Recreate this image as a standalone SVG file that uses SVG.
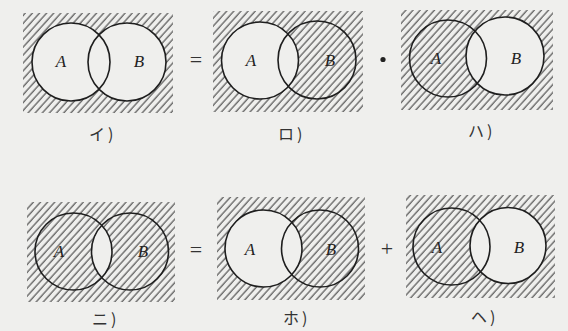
<svg xmlns="http://www.w3.org/2000/svg" width="568" height="331" viewBox="0 0 568 331">
<style>
.bg{fill:#efefed}
.c{fill:none;stroke:#1e1e1e;stroke-width:1.6}
.cv{fill:#efefed;stroke:none}
.h{fill:url(#hatch)}
.v{font-family:"Liberation Serif",serif;font-style:italic;font-size:17px;fill:#222;text-anchor:middle;dominant-baseline:central}
.op{font-family:"Liberation Serif",serif;font-size:22px;fill:#333;text-anchor:middle;dominant-baseline:central}
.lb{font-family:"Noto Sans CJK JP",sans-serif;font-size:16px;fill:#333;letter-spacing:3px}
</style>
<defs>
<pattern id="hatch" patternUnits="userSpaceOnUse" width="5.3" height="10" patternTransform="rotate(42)">
<line x1="1" y1="0" x2="1" y2="10" stroke="#333" stroke-width="1"/>
</pattern>
<clipPath id="clipA4"><circle cx="73.5" cy="251.5" r="38.5"/></clipPath>
</defs>
<rect class="bg" x="0" y="0" width="568" height="331"/>

<g id="panel-i">
<rect class="h" x="23" y="13" width="150" height="100"/>
<circle class="cv" cx="71" cy="62" r="39"/>
<circle class="cv" cx="127" cy="62" r="39"/>
<circle class="c" cx="71" cy="62" r="39"/>
<circle class="c" cx="127" cy="62" r="39"/>
<text class="v" x="61" y="61">A</text>
<text class="v" x="139" y="61">B</text>
<text class="lb" x="89" y="140">イ)</text>
</g>

<g id="panel-ro">
<rect class="h" x="213" y="11" width="150" height="101"/>
<circle class="cv" cx="260" cy="60.5" r="38.5"/>
<circle class="c" cx="260" cy="60.5" r="38.5"/>
<circle class="c" cx="317" cy="60" r="39"/>
<text class="v" x="251" y="60">A</text>
<text class="v" x="330" y="60">B</text>
<text class="lb" x="278" y="140">ロ)</text>
</g>

<g id="panel-ha">
<rect class="h" x="401" y="10" width="152" height="100"/>
<circle class="cv" cx="505" cy="56" r="39"/>
<circle class="c" cx="448" cy="58.5" r="38.5"/>
<circle class="c" cx="505" cy="56" r="39"/>
<text class="v" x="436" y="58">A</text>
<text class="v" x="516" y="58">B</text>
<text class="lb" x="468" y="137">ハ)</text>
</g>

<g id="panel-ni">
<rect class="h" x="27" y="202" width="148" height="100"/>
<circle class="cv" cx="130" cy="251.5" r="38.5" clip-path="url(#clipA4)"/>
<circle class="c" cx="73.5" cy="251.5" r="38.5"/>
<circle class="c" cx="130" cy="251.5" r="38.5"/>
<text class="v" x="59" y="251">A</text>
<text class="v" x="143" y="251">B</text>
<text class="lb" x="92" y="325">ニ)</text>
</g>

<g id="panel-ho">
<rect class="h" x="217" y="197" width="148" height="103"/>
<circle class="cv" cx="263.5" cy="248.5" r="38.5"/>
<circle class="c" cx="263.5" cy="248.5" r="38.5"/>
<circle class="c" cx="320" cy="248.5" r="38.5"/>
<text class="v" x="250" y="249">A</text>
<text class="v" x="331" y="249">B</text>
<text class="lb" x="283" y="324">ホ)</text>
</g>

<g id="panel-he">
<rect class="h" x="406" y="195" width="149" height="103"/>
<circle class="cv" cx="508" cy="245.5" r="38"/>
<circle class="c" cx="451.5" cy="246.5" r="38.5"/>
<circle class="c" cx="508" cy="245.5" r="38"/>
<text class="v" x="437" y="247">A</text>
<text class="v" x="519" y="247">B</text>
<text class="lb" x="471" y="323">ヘ)</text>
</g>

<g id="operators">
<text class="op" x="196" y="59">=</text>
<circle cx="383" cy="59.5" r="2.6" fill="#222"/>
<text class="op" x="196" y="249">=</text>
<text class="op" x="387" y="248">+</text>
</g>
</svg>
